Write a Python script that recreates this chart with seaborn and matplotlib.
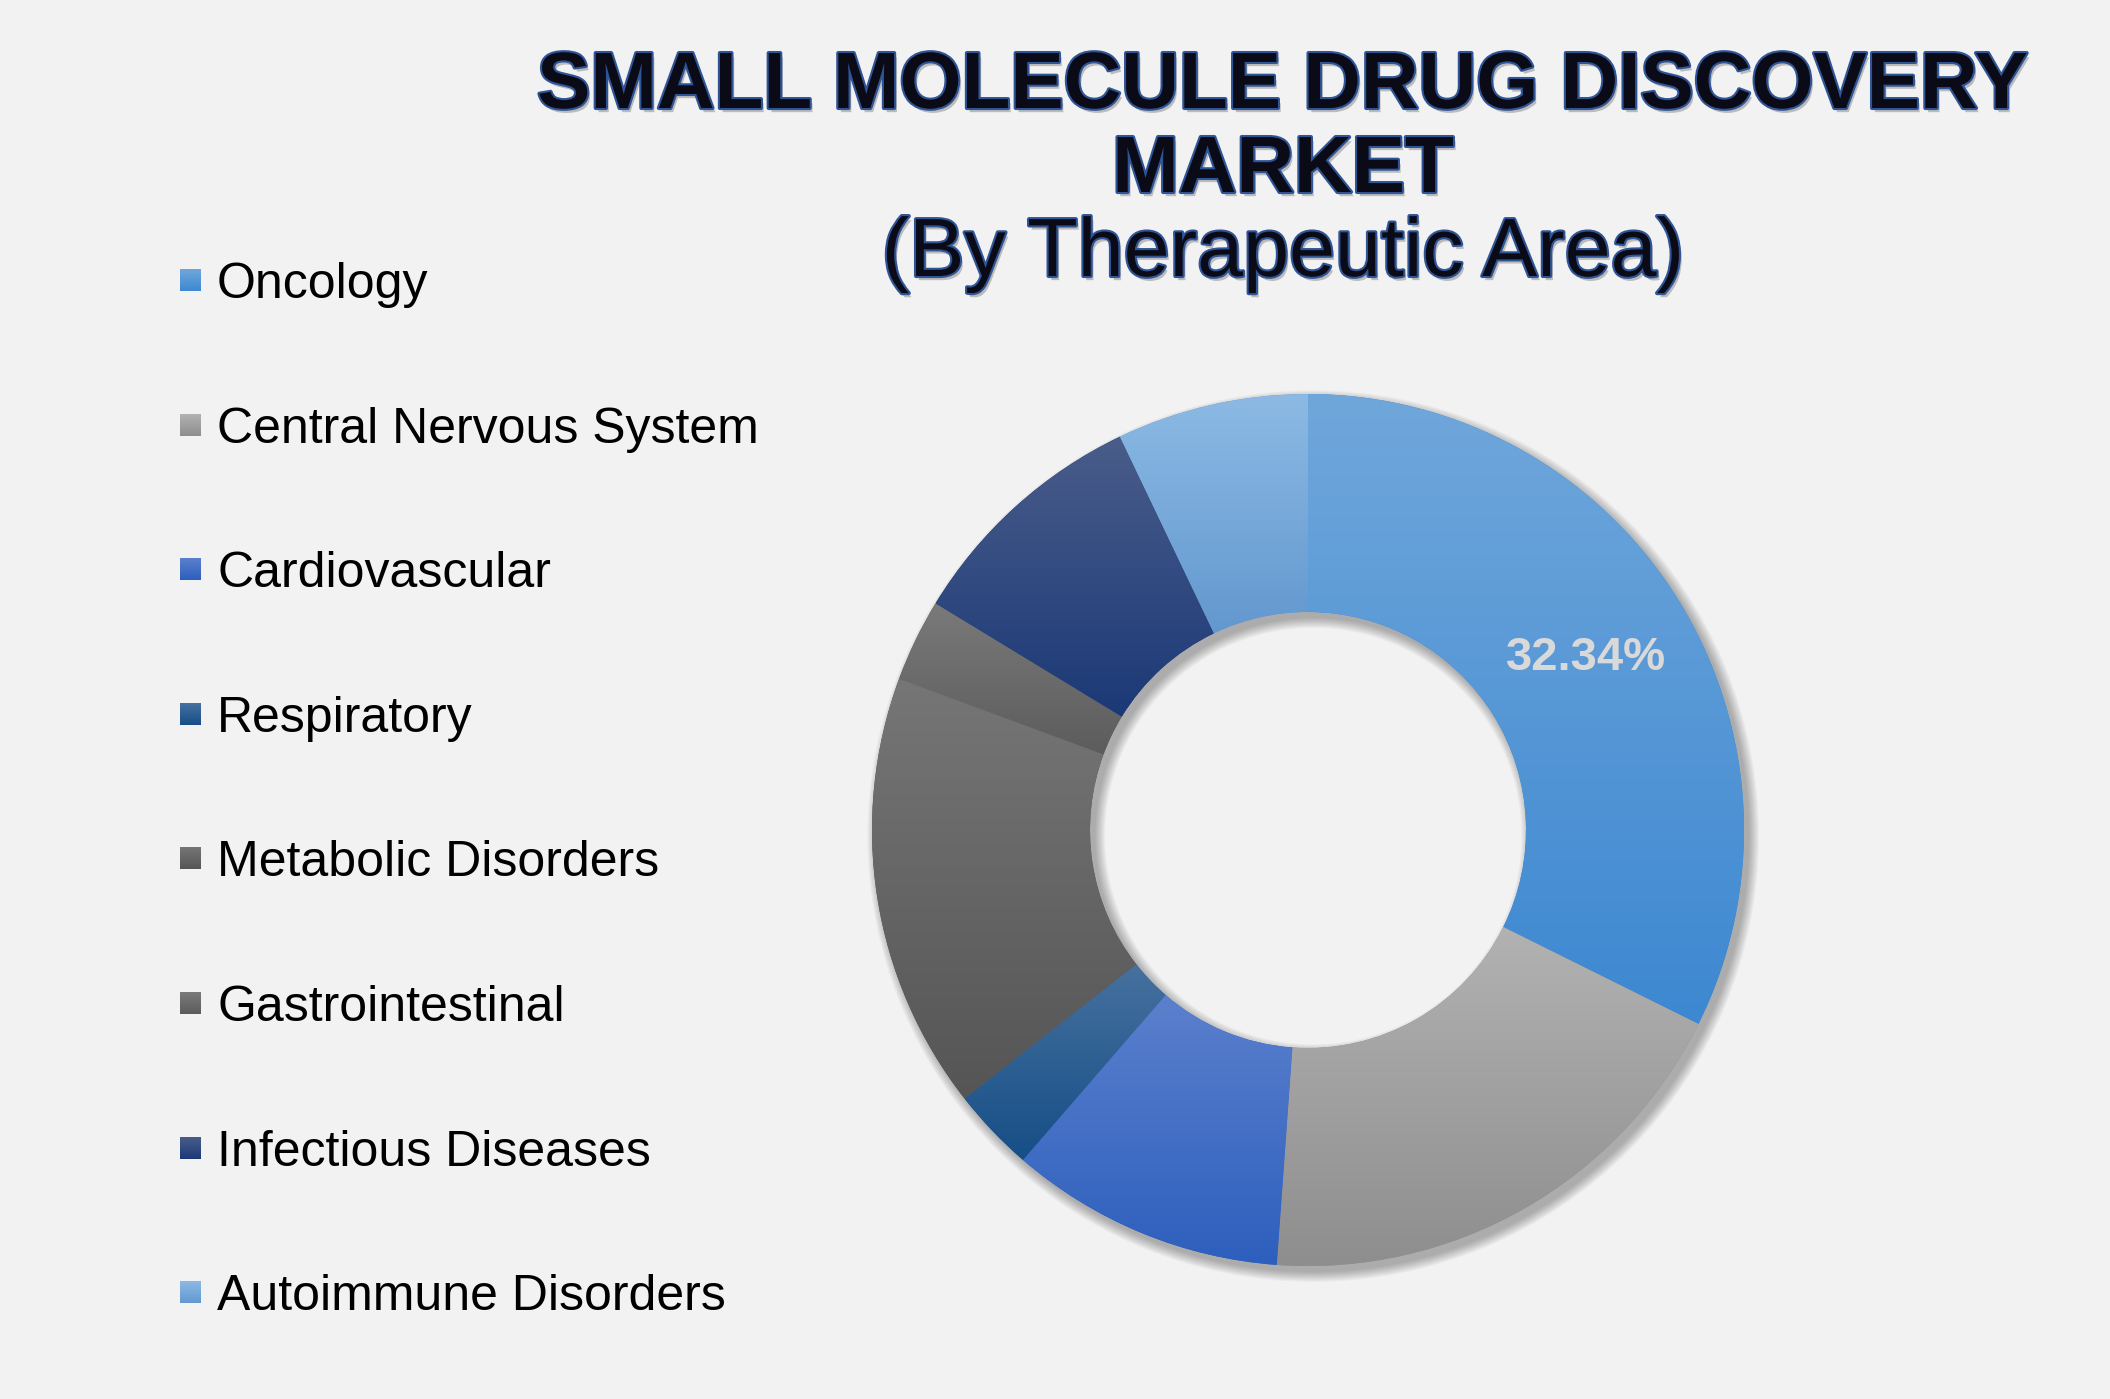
import numpy as np
import matplotlib
matplotlib.use('Agg')
import matplotlib.pyplot as plt
import matplotlib.patheffects as pe
from matplotlib.colors import LinearSegmentedColormap
from matplotlib.patches import Wedge
import seaborn as sns

# data
areas = ['Oncology', 'Central Nervous System', 'Cardiovascular', 'Respiratory',
         'Metabolic Disorders', 'Gastrointestinal', 'Infectious Diseases',
         'Autoimmune Disorders']
shares = [32.34, 18.8, 10.2, 3.1, 16.2, 3.06, 9.2, 7.1]
top_colors = ['#70a7db', '#b2b2b2', '#5b80cd', '#46719f', '#767676', '#7a7a7a', '#4a5d8a', '#8cbae4']
bottom_colors = ['#3d88d1', '#8e8e8e', '#2d5fbd', '#164e86', '#555555', '#5c5c5c', '#1b3977', '#6398cf']

sns.set_theme(style='white', rc={'figure.facecolor': '#f2f2f2',
                                 'axes.facecolor': '#f2f2f2',
                                 'savefig.facecolor': '#f2f2f2'})
plt.rcParams['font.family'] = ['Liberation Sans', 'DejaVu Sans']

W, H = 2110, 1399
fig = plt.figure(figsize=(W / 100, H / 100), dpi=100)

# donut axes, placed in pixels
R_PX, CX, CY, LIM = 436, 1308, 830, 1.25
side = 2 * R_PX * LIM
ax = fig.add_axes([(CX - side / 2) / W, (H - CY - side / 2) / H, side / W, side / H])
ax.set_facecolor('none')

# soft drop shadow
for k in range(10):
    d = 0.0025 * k
    ax.add_patch(Wedge((0.012, -0.014), 1.0 + d, 0, 360, width=0.5 + 2 * d,
                       facecolor='black', edgecolor='none', alpha=0.03, zorder=0))

wedges, texts, autotexts = ax.pie(
    shares, startangle=90, counterclock=False, radius=1,
    colors=bottom_colors,
    wedgeprops=dict(width=0.5, linewidth=0),
    autopct=lambda p: f'{p:.2f}%' if p > 30 else '',
    pctdistance=0.75,
    textprops=dict(color='#d9d9d9', fontsize=34, fontweight='bold'))

grad = np.linspace(0, 1, 256).reshape(-1, 1)
for w, c0, c1 in zip(wedges, top_colors, bottom_colors):
    w.set_zorder(1)
    bb = w.get_path().get_extents()
    cmap = LinearSegmentedColormap.from_list('g', [c0, c1])
    im = ax.imshow(grad, cmap=cmap, aspect='auto', origin='upper',
                   extent=(bb.x0, bb.x1, bb.y0, bb.y1), zorder=1.5, interpolation='bilinear')
    im.set_clip_path(w)

for t in autotexts:
    t.set_zorder(5)

ax.set_xlim(-LIM, LIM)
ax.set_ylim(-LIM, LIM)
ax.set_aspect('equal')
ax.axis('off')

# legend drawn in pixel space
leg = fig.add_axes([0, 0, 1, 1])
leg.set_facecolor('none')
leg.axis('off')
for i, (name, c0, c1) in enumerate(zip(areas, top_colors, bottom_colors)):
    y = 280 + i * 144.6
    cmap = LinearSegmentedColormap.from_list('g', [c0, c1])
    leg.imshow(grad, cmap=cmap, aspect='auto', origin='upper',
               extent=(180, 201, y + 11, y - 11), interpolation='bilinear')
    leg.text(217, y + 18, name, fontsize=36, color='black', va='baseline', ha='left')
leg.set_xlim(0, W)
leg.set_ylim(H, 0)
leg.set_aspect('auto')

# title
effects = [pe.SimplePatchShadow(offset=(2, -3), shadow_rgbFace='#555555', alpha=0.35),
           pe.Stroke(linewidth=3, foreground='#2f5597'), pe.Normal()]
title_lines = [('SMALL MOLECULE DRUG DISCOVERY', 108, 'bold', 57.5),
               ('MARKET', 192, 'bold', 57.5),
               ('(By Therapeutic Area)', 276, 'normal', 59.5)]
for txt, base, wt, size in title_lines:
    fig.text(1283 / W, 1 - base / H, txt, fontsize=size,
             fontweight=wt, color='#0b0b18', ha='center', va='baseline',
             path_effects=effects)

fig.savefig('out.png', dpi=100)
